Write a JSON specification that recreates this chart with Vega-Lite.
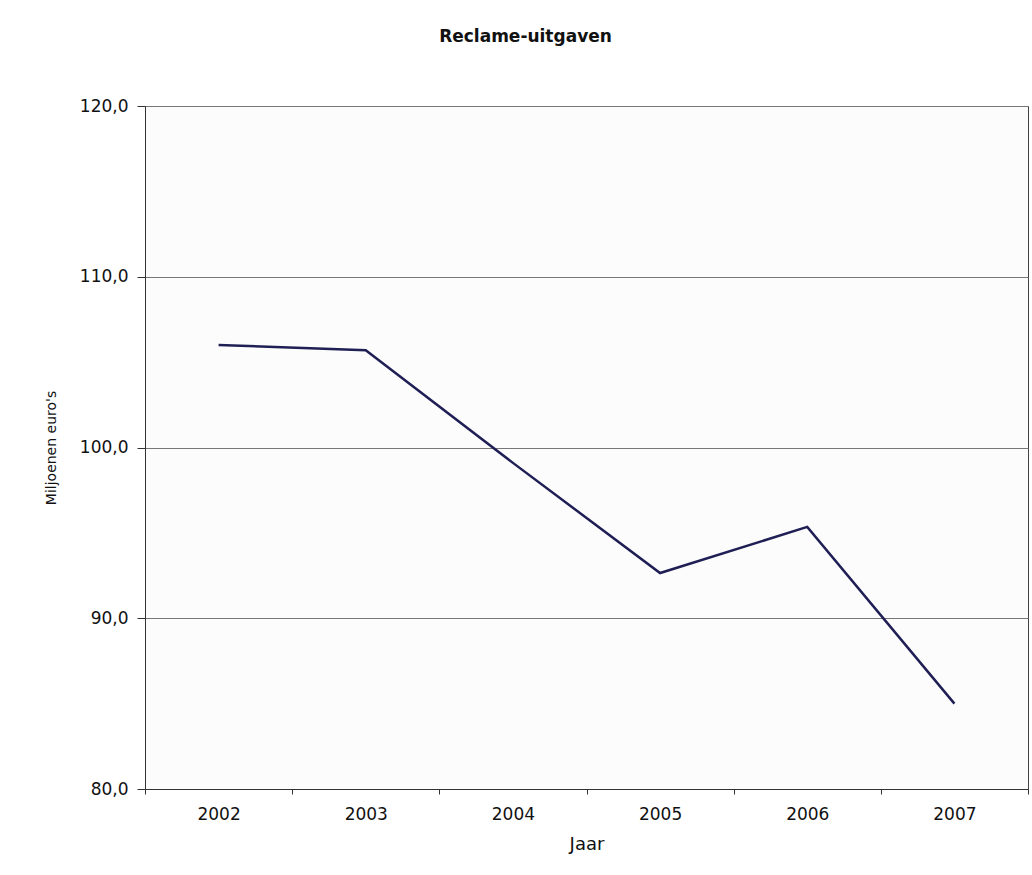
{
  "$schema": "https://vega.github.io/schema/vega-lite/v6.json",
  "autosize": "none",
  "width": 883,
  "height": 683,
  "padding": {"left": 145, "top": 106, "right": 4, "bottom": 86},
  "background": "white",
  "title": {
    "text": "Reclame-uitgaven",
    "font": "DejaVu Sans",
    "fontSize": 17,
    "fontWeight": "bold",
    "color": "#111",
    "anchor": "middle",
    "dx": -61,
    "offset": 51
  },
  "data": {
    "values": [
      {"Jaar": "2002", "Waarde": 106.0},
      {"Jaar": "2003", "Waarde": 105.7},
      {"Jaar": "2004", "Waarde": 99.1},
      {"Jaar": "2005", "Waarde": 92.65},
      {"Jaar": "2006", "Waarde": 95.35},
      {"Jaar": "2007", "Waarde": 85.0}
    ]
  },
  "mark": {"type": "line", "color": "#1f1f55", "strokeWidth": 2.5},
  "encoding": {
    "x": {
      "field": "Jaar",
      "type": "ordinal",
      "scale": {"paddingInner": 0, "paddingOuter": 0},
      "axis": {
        "title": "Jaar",
        "labelAngle": 0,
        "tickBand": "extent",
        "grid": false,
        "domainColor": "#333",
        "tickColor": "#333",
        "tickSize": 5,
        "labelFont": "DejaVu Sans",
        "labelFontSize": 17,
        "labelColor": "#111",
        "labelPadding": 12,
        "titleFont": "DejaVu Sans",
        "titleFontSize": 18,
        "titleFontWeight": "normal",
        "titleColor": "#111",
        "titlePadding": 13
      }
    },
    "y": {
      "field": "Waarde",
      "type": "quantitative",
      "scale": {"domain": [80, 120], "nice": false, "zero": false},
      "axis": {
        "title": "Miljoenen euro's",
        "values": [80, 90, 100, 110, 120],
        "labelExpr": "replace(format(datum.value, '.1f'), '.', ',')",
        "grid": true,
        "gridColor": "#777",
        "gridWidth": 1.2,
        "domainColor": "#333",
        "tickColor": "#333",
        "tickSize": 8,
        "labelFont": "DejaVu Sans",
        "labelFontSize": 17,
        "labelColor": "#111",
        "labelPadding": 9,
        "titleFont": "DejaVu Sans",
        "titleFontSize": 14,
        "titleFontWeight": "normal",
        "titleColor": "#111",
        "titlePadding": 21
      }
    }
  },
  "config": {
    "view": {"stroke": "#444", "strokeWidth": 1, "fill": "#fcfcfc"}
  }
}
